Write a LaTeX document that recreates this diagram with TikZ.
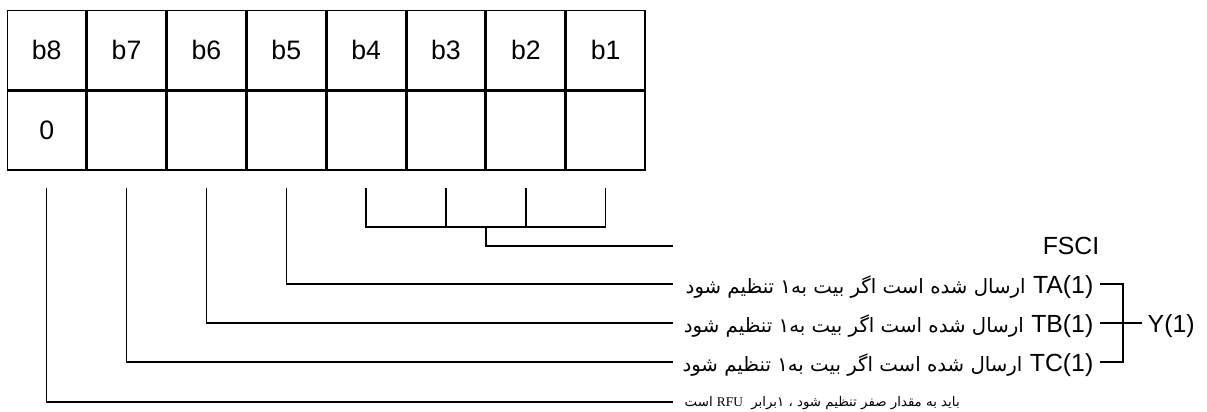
\documentclass[tikz,border=0pt]{standalone}
\usepackage{fontspec}
\setmainfont{Liberation Sans}
\newfontfamily\farsi[Script=Arabic]{DejaVu Sans}
\newfontfamily\serifrm{Liberation Serif}
\TeXXeTstate=1
\usetikzlibrary{matrix,calc}

\begin{document}
\begin{tikzpicture}[x=0.75pt, y=-0.75pt, line width=1.1pt,
    sans/.style = { font=\fontsize{18.6}{22}\selectfont, inner sep=0pt },
    note/.style = { font=\farsi\fontsize{14.8}{17}\selectfont, inner sep=0pt },
    smallnote/.style = { font=\farsi\fontsize{10}{12}\selectfont, inner sep=0pt }]
  \useasboundingbox (0,0) rectangle (1207,411);
  \matrix (m) at (6,9)
    [
      matrix of nodes,
      nodes in empty cells,
      anchor     = north west,
      inner sep  = 0pt,
      column sep = 0pt,
      row sep    = 0pt,
      nodes = { draw, sans, font=\fontsize{20}{24}\selectfont, anchor=center,
                outer sep=0pt, minimum width=58.8pt, minimum height=59.25pt }
    ]
    {
      b8 & b7 & b6 & b5 & b4 & b3 & b2 & b1 \\
      0  &    &    &    &    &    &    &    \\
    };
  % single bits
  \foreach \i/\y in {1/402, 2/362, 3/323, 4/284} {
    \coordinate (out-\i) at (673,\y);
    \draw (m-2-\i.south) ++(0,18) |- (out-\i);
  }
  % b4 ... b1 together
  \coordinate (out-fsci) at (673,246);
  \draw ($(m-2-5.south)+(0,18)$) |- ($(m-2-8.south)+(0,57)$) -- ++(0,-39);
  \foreach \i in {6,7}
    \draw ($(m-2-\i.south)+(0,18)$) -- ++(0,39);
  \draw ($(m-2-5.south)!0.5!(m-2-8.south)+(0,57)$) |- (out-fsci);

  \node [sans, anchor=base east] (fsci) at (1100,254) {FSCI};
  \node [sans, anchor=base east] (ta) at (1094,293) {TA(1)};
  \node [sans, anchor=base east] (tb) at (1094,332) {TB(1)};
  \node [sans, anchor=base east] (tc) at (1094,371) {TC(1)};
  \node [sans, anchor=base west] (y) at (1147,332) {Y(1)};
  \foreach \t in {ta, tb, tc}
    \node [note, anchor=base east] (\t-note) at ($(\t.base west)+(-6,0)$)
      {\beginR ارسال شده است اگر بیت به۱ تنظیم شود\endR};
  \node [smallnote, anchor=base west] (rfu) at (684,406)
    {\beginR باید به مقدار صفر تنظیم شود ، ۱برابر \ {\serifrm RFU} است\endR};

  \coordinate (brace) at (1123,323);
  \draw ($(ta.base east)+(6,-9)$) -| (brace) |- ($(tc.base east)+(6,-9)$);
  \draw ($(tb.base east)+(6,-9)$) -- ($(y.base west)+(-5,-9)$);
\end{tikzpicture}
\end{document}
